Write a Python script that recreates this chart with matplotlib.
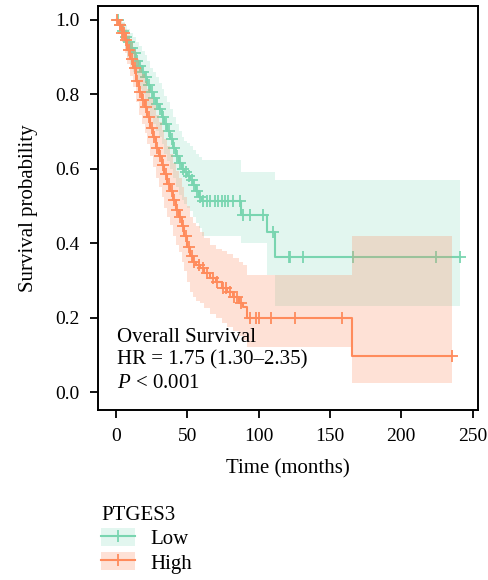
import matplotlib
matplotlib.use("Agg")
import matplotlib.pyplot as plt
import numpy as np
from matplotlib.lines import Line2D
from matplotlib.patches import Patch

plt.rcParams["font.family"] = ["Liberation Serif", "DejaVu Serif"]
plt.rcParams["mathtext.fontset"] = "custom"
plt.rcParams["mathtext.it"] = "Liberation Serif:italic"
plt.rcParams["mathtext.rm"] = "Liberation Serif"

# Low PTGES3 group (KM estimate)
low_time = [0, 2, 4, 6, 8, 10, 12, 14, 16, 18, 20, 22, 24, 26, 28, 30, 32, 34, 36, 38,
            40, 42, 44, 46, 48, 50, 52, 54, 56, 58, 60, 88, 106, 111.5]
low_surv = [1.0, 0.985, 0.97, 0.955, 0.94, 0.925, 0.91, 0.89, 0.875, 0.86, 0.845, 0.825,
            0.805, 0.79, 0.775, 0.76, 0.74, 0.72, 0.70, 0.68, 0.655, 0.635, 0.615, 0.6,
            0.59, 0.58, 0.57, 0.555, 0.54, 0.525, 0.512, 0.475, 0.43, 0.362]
low_upper = [1.0, 1.0, 0.995, 0.985, 0.975, 0.965, 0.955, 0.94, 0.93, 0.915, 0.905, 0.89,
             0.87, 0.86, 0.845, 0.83, 0.815, 0.795, 0.78, 0.76, 0.74, 0.72, 0.70, 0.685,
             0.675, 0.67, 0.66, 0.65, 0.64, 0.632, 0.624, 0.59, 0.59, 0.57]
low_lower = [1.0, 0.965, 0.94, 0.92, 0.9, 0.88, 0.86, 0.835, 0.815, 0.8, 0.78, 0.76,
             0.735, 0.72, 0.7, 0.685, 0.665, 0.64, 0.62, 0.6, 0.575, 0.55, 0.53, 0.515,
             0.505, 0.495, 0.485, 0.47, 0.455, 0.44, 0.42, 0.40, 0.315, 0.23]
low_end = 241.2
low_censor = [1.5, 3, 5, 7, 9, 11, 13, 15, 17, 19, 21, 23, 25, 27, 29, 31, 33, 35, 37, 39,
              41, 43, 45, 47, 49, 51, 53, 55, 57, 59, 61.2, 63.5, 65.9, 69.4, 71.7, 74.1,
              76.4, 78.7, 82.3, 87, 88.8, 94, 102.9, 109.9, 121, 122, 131, 166.4, 224.4,
              241.2]

# High PTGES3 group
high_time = [0, 2, 4, 6, 8, 10, 12, 14, 16, 18, 20, 22, 24, 26, 28, 30, 32, 34, 36, 38,
             40, 42, 44, 46, 48, 50, 52, 54, 56, 59, 62, 66, 70, 74, 78, 82, 86, 89, 92,
             165.3]
high_surv = [1.0, 0.985, 0.965, 0.945, 0.92, 0.895, 0.87, 0.835, 0.805, 0.785, 0.765,
             0.74, 0.71, 0.685, 0.655, 0.635, 0.61, 0.585, 0.56, 0.54, 0.515, 0.49, 0.47,
             0.445, 0.42, 0.39, 0.365, 0.35, 0.34, 0.333, 0.32, 0.306, 0.295, 0.28, 0.27,
             0.255, 0.24, 0.229, 0.198, 0.098]
high_upper = [1.0, 1.0, 0.99, 0.975, 0.96, 0.94, 0.92, 0.895, 0.87, 0.855, 0.835, 0.815,
              0.79, 0.77, 0.745, 0.725, 0.705, 0.68, 0.66, 0.64, 0.615, 0.595, 0.575,
              0.55, 0.525, 0.5, 0.47, 0.455, 0.445, 0.43, 0.415, 0.395, 0.385, 0.38, 0.37,
              0.36, 0.35, 0.34, 0.315, 0.42]
high_lower = [1.0, 0.965, 0.94, 0.91, 0.88, 0.85, 0.82, 0.78, 0.745, 0.72, 0.695, 0.665,
              0.635, 0.605, 0.575, 0.55, 0.525, 0.495, 0.47, 0.45, 0.42, 0.395, 0.375,
              0.35, 0.325, 0.295, 0.27, 0.255, 0.245, 0.24, 0.225, 0.21, 0.2, 0.185,
              0.175, 0.165, 0.15, 0.14, 0.12, 0.025]
high_end = 235.4
high_censor = [1, 2.5, 4, 5.5, 7, 9, 11, 13, 15, 17, 19, 21, 23, 25, 27, 29, 31, 33, 35,
               37, 39, 41, 43, 45, 47, 49, 51, 53, 55, 58, 61, 64, 68, 71, 75, 77, 80, 83,
               85, 88, 94, 98, 100.5, 108.7, 125.5, 158.7, 235.4]

low_color = "#79D5B0"
high_color = "#FF8B5C"
low_fill = "#E2F6EF"
high_fill = "#FC8D62"


def km_arrays(time, surv, upper, lower, end):
    t = np.array(time + [end])
    s = np.array(surv + [surv[-1]])
    u = np.array(upper + [upper[-1]])
    lo = np.array(lower + [lower[-1]])
    return t, s, u, lo


def censor_y(time, surv, ctimes):
    idx = np.searchsorted(np.array(time), np.array(ctimes), side="right") - 1
    return np.array(surv)[idx]


fig = plt.figure(figsize=(4.89, 5.80), dpi=100)
ax = fig.add_axes([98 / 489, 1 - 409.5 / 580, 380 / 489, 403.5 / 580])

t, s, u, lo = km_arrays(low_time, low_surv, low_upper, low_lower, low_end)
ax.fill_between(t, lo, u, step="post", color=low_fill, lw=0, zorder=1)
ax.step(t, s, where="post", color=low_color, lw=1.5, zorder=2)
ax.plot(low_censor, censor_y(low_time, low_surv, low_censor), ls="none", marker="+",
        ms=8, mew=1.3, color=low_color, zorder=2)

t, s, u, lo = km_arrays(high_time, high_surv, high_upper, high_lower, high_end)
ax.fill_between(t, lo, u, step="post", color=high_fill, alpha=0.26, lw=0, zorder=3)
ax.step(t, s, where="post", color=high_color, lw=1.5, zorder=4)
ax.plot(high_censor, censor_y(high_time, high_surv, high_censor), ls="none", marker="+",
        ms=8, mew=1.3, color=high_color, zorder=4)

ax.set_xlim(-12.6, 253.8)
ax.set_ylim(-0.047, 1.037)
ax.set_xticks([0, 50, 100, 150, 200, 250])
ax.set_yticks([0.0, 0.2, 0.4, 0.6, 0.8, 1.0])
ax.set_yticklabels(["0.0", "0.2", "0.4", "0.6", "0.8", "1.0"])
ax.tick_params(labelsize=14, length=5.5, width=1.3, pad=8, colors="black")
for sp in ax.spines.values():
    sp.set_linewidth(1.4)
    sp.set_color("black")
ax.set_xlabel("Time (months)", fontsize=15, labelpad=10)
ax.set_ylabel("Survival probability", fontsize=15, labelpad=12)

ax.text(0.5, 0.135, "Overall Survival", fontsize=15, va="baseline", zorder=5)
ax.text(0.5, 0.073, "HR = 1.75 (1.30\u20132.35)", fontsize=15, va="baseline", zorder=5)
ax.text(0.5, 0.011, "$P$ < 0.001", fontsize=15, va="baseline", zorder=5)

handles = [
    (Patch(facecolor=low_fill, edgecolor="none"),
     Line2D([], [], color=low_color, lw=1.5, marker="+", ms=8, mew=1.3)),
    (Patch(facecolor=high_fill, alpha=0.26, edgecolor="none"),
     Line2D([], [], color=high_color, lw=1.5, marker="+", ms=8, mew=1.3)),
]
fig.legend(handles, ["Low", "High"], title="PTGES3", loc="upper left",
           bbox_to_anchor=(101 / 489, 1 - 506 / 580), frameon=False, alignment="left",
           fontsize=15, title_fontsize=15, handlelength=1.65, handleheight=0.95,
           handletextpad=0.7, labelspacing=0.15, borderpad=0, borderaxespad=0)

fig.savefig("out.png", dpi=100)
